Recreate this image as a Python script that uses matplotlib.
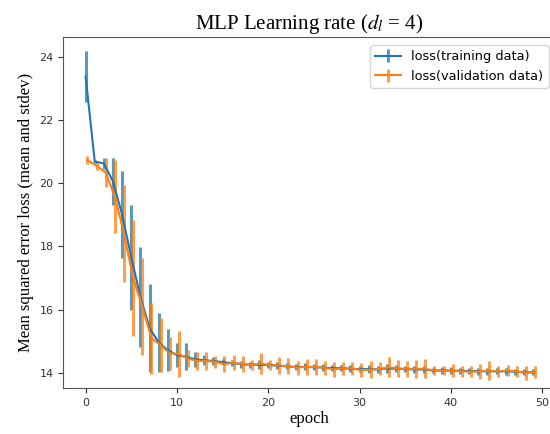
import numpy as np
import matplotlib
matplotlib.use("Agg")
import matplotlib.pyplot as plt

epochs = np.arange(50)

# training loss, mean and stdev per epoch
train_mean = [23.36, 20.68, 20.62, 20.05, 19.00, 17.65, 16.40, 15.42, 14.96, 14.72,
              14.56, 14.51, 14.43, 14.40, 14.38, 14.34, 14.31, 14.28, 14.26, 14.26,
              14.25, 14.23, 14.21, 14.19, 14.19, 14.18, 14.17, 14.15, 14.15, 14.13,
              14.12, 14.12, 14.11, 14.14, 14.13, 14.12, 14.11, 14.11, 14.08, 14.08,
              14.07, 14.07, 14.06, 14.06, 14.05, 14.05, 14.05, 14.04, 14.02, 14.02]
train_std = [0.81, 0.05, 0.16, 0.74, 1.37, 1.66, 1.58, 1.39, 0.94, 0.66,
             0.37, 0.42, 0.24, 0.16, 0.13, 0.10, 0.10, 0.11, 0.09, 0.14,
             0.10, 0.12, 0.10, 0.09, 0.11, 0.10, 0.12, 0.09, 0.10, 0.11,
             0.09, 0.12, 0.10, 0.13, 0.11, 0.10, 0.12, 0.11, 0.09, 0.10,
             0.11, 0.09, 0.10, 0.11, 0.10, 0.09, 0.10, 0.09, 0.10, 0.09]

# validation loss, mean and stdev per epoch
val_mean = [20.72, 20.55, 20.33, 19.57, 18.41, 17.00, 16.10, 15.10, 14.88, 14.62,
            14.60, 14.45, 14.38, 14.38, 14.35, 14.28, 14.32, 14.28, 14.25, 14.30,
            14.24, 14.24, 14.21, 14.17, 14.19, 14.19, 14.16, 14.11, 14.15, 14.14,
            14.09, 14.10, 14.13, 14.18, 14.14, 14.13, 14.13, 14.13, 14.07, 14.07,
            14.07, 14.05, 14.04, 14.05, 14.07, 14.05, 14.07, 14.05, 14.00, 14.02]
val_std = [0.12, 0.13, 0.45, 1.16, 1.53, 1.82, 1.53, 1.12, 0.85, 0.53,
           0.73, 0.27, 0.29, 0.29, 0.20, 0.25, 0.24, 0.25, 0.17, 0.32,
           0.16, 0.26, 0.25, 0.22, 0.26, 0.26, 0.21, 0.23, 0.20, 0.21,
           0.23, 0.27, 0.20, 0.31, 0.26, 0.25, 0.28, 0.30, 0.14, 0.14,
           0.20, 0.18, 0.17, 0.24, 0.30, 0.18, 0.17, 0.18, 0.21, 0.19]

plt.rcParams['mathtext.fontset'] = 'stix'
serif = ['Liberation Serif', 'DejaVu Serif']

fig = plt.figure(figsize=(5.5, 4.34), dpi=100)
ax = fig.add_axes([0.115, 0.105, 0.895, 0.81])

tr = ax.errorbar(epochs, train_mean, yerr=train_std, color='#1f77b4', lw=1.5,
                 elinewidth=2.2, label='loss(training data)')
va = ax.errorbar(epochs + 0.2, val_mean, yerr=val_std, color='#ff7f0e', lw=1.5,
                 elinewidth=2.2, label='loss(validation data)')
for c in tr[2] + va[2]:
    c.set_alpha(0.75)

ax.set_xlim(-2.45, 51.45)
ax.set_ylim(13.51, 24.62)
ax.set_xticks(range(0, 51, 10))
ax.set_yticks(range(14, 25, 2))
ax.tick_params(labelsize=8, colors='#333333', labelcolor='#333333')
for s in ax.spines.values():
    s.set_color('#555555')
ax.spines['right'].set_visible(False)

ax.set_title('MLP Learning rate ($d_l$ = 4)', family=serif, fontsize=15)
ax.set_xlabel('epoch', family=serif, fontsize=12, labelpad=2)
ax.set_ylabel('Mean squared error loss (mean and stdev)', family=serif, fontsize=12)
ax.legend(loc='upper right', fontsize=9.3, bbox_to_anchor=(0.999, 0.995))

fig.savefig('out.png', dpi=100)
